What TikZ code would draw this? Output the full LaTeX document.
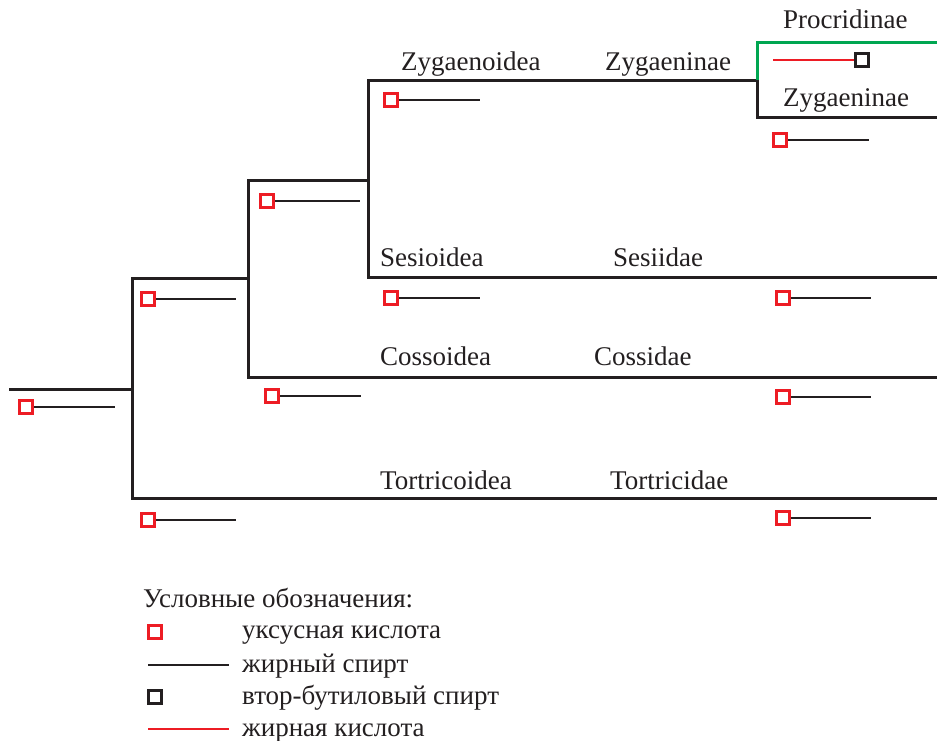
\documentclass[tikz,border=0pt]{standalone}
\usepackage{fontspec}
\setmainfont{Liberation Serif}
\definecolor{myred}{HTML}{ED1C24}
\definecolor{mygreen}{HTML}{00A651}
\definecolor{myblack}{HTML}{231F20}
\begin{document}
\begin{tikzpicture}[x=1pt,y=-1pt,
  br/.style={draw=myblack,line width=3pt,line cap=rect},
  grn/.style={draw=mygreen,line width=3pt},
  mln/.style={draw=myblack,line width=2.8pt},
  rln/.style={draw=myred,line width=2.8pt},
  asq/.style={draw=myred,fill=white,line width=3.2pt,minimum size=13.5pt,inner sep=0pt},
  bsq/.style={draw=myblack,fill=white,line width=3.2pt,minimum size=13.5pt,inner sep=0pt},
  lbl/.style={anchor=base west,inner sep=0pt,font=\fontsize{27}{31}\selectfont,text=myblack}]
\useasboundingbox (0,0) rectangle (937,740);
% tree coordinates
\coordinate (r0) at (10,389);
\coordinate (n1) at (132,389);
\coordinate (n1t) at (132,278);
\coordinate (n1b) at (132,498);
\coordinate (tE) at (937,498);
\coordinate (n2t) at (248,180);
\coordinate (n2m) at (248,278);
\coordinate (n2b) at (248,377);
\coordinate (cE) at (937,377);
\coordinate (n3t) at (368,80);
\coordinate (n3m) at (368,180);
\coordinate (n3b) at (368,277);
\coordinate (sE) at (937,277);
\coordinate (n4) at (757,80);
\coordinate (n4t) at (757,42);
\coordinate (n4b) at (757,117);
\coordinate (pE) at (937,42);
\coordinate (zE) at (937,117);
% branches
\draw[br] (r0) -- (n1);
\draw[br] (n1t) -- (n1b) -- (tE);
\draw[br] (n1t) -- (n2m);
\draw[br] (n2t) -- (n2b) -- (cE);
\draw[br] (n2t) -- (n3m);
\draw[br] (n3t) -- (n3b) -- (sE);
\draw[br] (n3t) -- (n4);
\draw[br] (n4) -- (n4b) -- (zE);
\draw[grn] (n4) -- (n4t) -- (pE);
% markers
\foreach \i/\x/\y/\e in {1/26/407/115, 2/148/299/236, 3/267/201/360, 4/272/396/361,
  5/391/100/480, 6/391/298/480, 7/780/140/869, 8/783/298/871, 9/783/397/871,
  10/783/518/871, 11/148/520/236}{
  \coordinate (e\i) at (\e,\y);
  \draw[mln] (\x,\y) -- (e\i);
  \node[asq] (m\i) at (\x,\y) {};
}
% Procridinae marker
\coordinate (pr0) at (773,60);
\draw[rln] (pr0) -- (862,60);
\node[bsq] (pb) at (862,60) {};
% labels
\node[lbl] (l1) at (401,70) {Zygaenoidea};
\node[lbl] (l2) at (605,70) {Zygaeninae};
\node[lbl] (l3) at (783,28) {Procridinae};
\node[lbl] (l4) at (783,106) {Zygaeninae};
\node[lbl] (l5) at (380,266) {Sesioidea};
\node[lbl] (l6) at (613,266) {Sesiidae};
\node[lbl] (l7) at (380,365) {Cossoidea};
\node[lbl] (l8) at (594,365) {Cossidae};
\node[lbl] (l9) at (380,489) {Tortricoidea};
\node[lbl] (l10) at (610,489) {Tortricidae};
% legend
\node[lbl] (lg) at (143,607) {Условные обозначения:};
\node[asq] (lgs1) at (155,632) {};
\node[lbl] (lgt1) at (242,638) {уксусная кислота};
\coordinate (lgl2a) at (148,665);
\coordinate (lgl2b) at (229,665);
\draw[mln] (lgl2a) -- (lgl2b);
\node[lbl] (lgt2) at (242,672) {жирный спирт};
\node[bsq] (lgs3) at (155,697) {};
\node[lbl] (lgt3) at (242,704) {втор-бутиловый спирт};
\coordinate (lgl4a) at (148,729);
\coordinate (lgl4b) at (229,729);
\draw[rln] (lgl4a) -- (lgl4b);
\node[lbl] (lgt4) at (242,736) {жирная кислота};
\end{tikzpicture}
\end{document}
